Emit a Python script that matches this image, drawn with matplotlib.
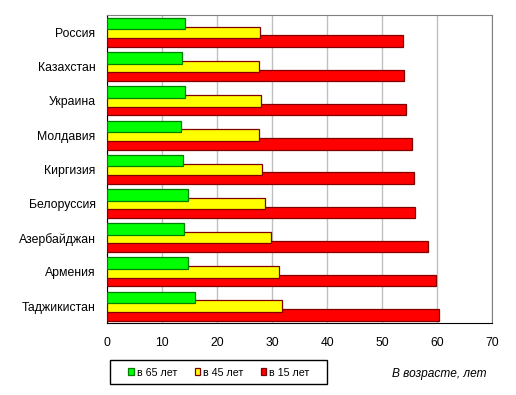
import matplotlib.pyplot as plt
import matplotlib.patches as mpatches
import numpy as np

countries = ["Россия", "Казахстан", "Украина", "Молдавия", "Киргизия",
             "Белоруссия", "Азербайджан", "Армения", "Таджикистан"]
age65 = [14.3, 13.6, 14.3, 13.4, 13.8, 14.7, 14.0, 14.7, 16.0]
age45 = [27.9, 27.7, 28.1, 27.7, 28.2, 28.8, 29.9, 31.2, 31.9]
age15 = [53.7, 53.9, 54.3, 55.5, 55.7, 55.9, 58.4, 59.7, 60.3]
labels = ["в 65 лет", "в 45 лет", "в 15 лет"]

plt.rcParams['font.family'] = ['Liberation Sans', 'DejaVu Sans']

W, H = 516, 395
fig = plt.figure(figsize=(W / 100, H / 100), dpi=100)
ax = fig.add_axes([106.7 / W, 1 - 323.3 / H, (492.3 - 106.7) / W, (323.3 - 15.3) / H])

y = np.arange(len(countries))
h = 0.336
step = 0.256
ax.barh(y + step, age15, height=h, color="#ff0000", edgecolor="#800000", linewidth=0.9,
        label=labels[2], zorder=3)
ax.barh(y, age45, height=h, color="#ffff00", edgecolor="#800000", linewidth=0.9,
        label=labels[1], zorder=4)
ax.barh(y - step, age65, height=h, color="#00ff00", edgecolor="#008000", linewidth=0.9,
        label=labels[0], zorder=5)

ax.set_ylim(len(countries) - 0.5, -0.5)
ax.set_yticks(y)
ax.set_yticklabels(countries, fontsize=8.8)
ax.set_xlim(0, 70)
ax.set_xticks(range(0, 71, 10))
ax.tick_params(axis="x", labelsize=8.7, length=0, pad=10)
ax.tick_params(axis="y", length=0, pad=8)
ax.grid(axis="x", color="#c0c0c0", linewidth=1, zorder=0)
ax.set_axisbelow(True)

for s in ["top", "right"]:
    ax.spines[s].set_color("#808080")
for s in ["left", "bottom"]:
    ax.spines[s].set_color("black")

# legend frame drawn separately to get Excel-like padding
fig.patches.append(mpatches.Rectangle((110 / W, 1 - 384 / H), (327 - 110) / W, 24 / H,
                                      transform=fig.transFigure, facecolor="white",
                                      edgecolor="black", linewidth=1, zorder=1))
handles, labs = ax.get_legend_handles_labels()
order = [2, 1, 0]
leg = fig.legend([handles[i] for i in order], [labs[i] for i in order],
                 loc="center", bbox_to_anchor=(219 / W, 1 - 372.5 / H),
                 ncol=3, fontsize=7.7, frameon=False,
                 handlelength=0.55, handleheight=0.55, handletextpad=0.25,
                 columnspacing=1.6, borderpad=0)
leg.set_zorder(2)

fig.text(439.5 / W, 1 - 373.5 / H, "В возрасте, лет", fontsize=8.6,
         style="italic", ha="center", va="center")

fig.savefig("out.png", dpi=100)
